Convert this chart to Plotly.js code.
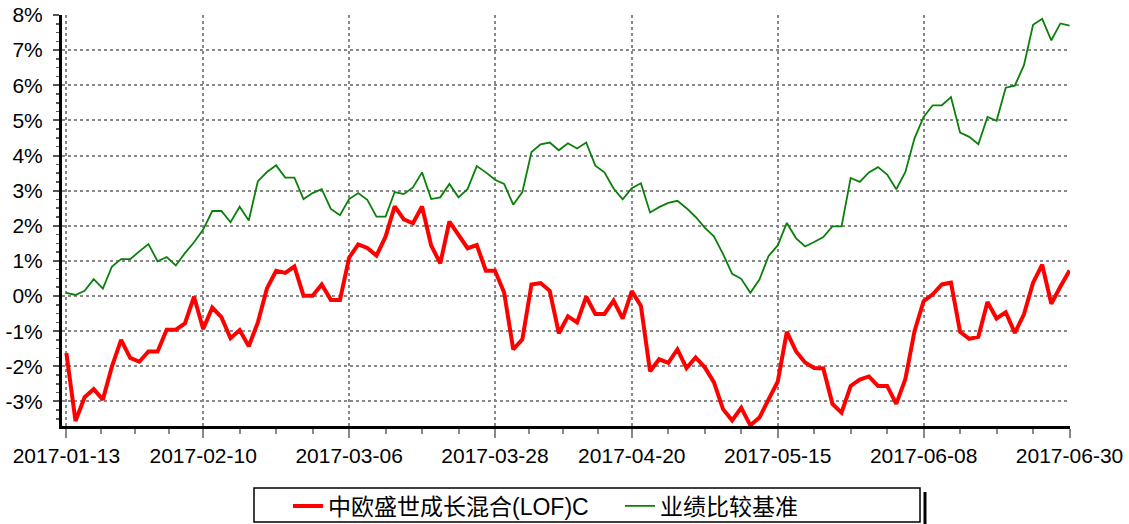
<!DOCTYPE html>
<html><head><meta charset="utf-8">
<script src="https://cdn.plot.ly/plotly-3.0.1.min.js"></script>
<style>html,body{margin:0;padding:0;background:#fff;} #chart{width:1129px;height:524px;}</style>
</head><body><div id="chart"></div>
<script>
const dates = [
'2017-01-13','2017-01-16','2017-01-17','2017-01-18','2017-01-19','2017-01-20','2017-01-23','2017-01-24','2017-01-25','2017-01-26',
'2017-02-03','2017-02-06','2017-02-07','2017-02-08','2017-02-09','2017-02-10','2017-02-13','2017-02-14','2017-02-15','2017-02-16',
'2017-02-17','2017-02-20','2017-02-21','2017-02-22','2017-02-23','2017-02-24','2017-02-27','2017-02-28','2017-03-01','2017-03-02',
'2017-03-03','2017-03-06','2017-03-07','2017-03-08','2017-03-09','2017-03-10','2017-03-13','2017-03-14','2017-03-15','2017-03-16',
'2017-03-17','2017-03-20','2017-03-21','2017-03-22','2017-03-23','2017-03-24','2017-03-27','2017-03-28','2017-03-29','2017-03-30',
'2017-03-31','2017-04-05','2017-04-06','2017-04-07','2017-04-10','2017-04-11','2017-04-12','2017-04-13','2017-04-14','2017-04-17',
'2017-04-18','2017-04-19','2017-04-20','2017-04-21','2017-04-24','2017-04-25','2017-04-26','2017-04-27','2017-04-28','2017-05-02',
'2017-05-03','2017-05-04','2017-05-05','2017-05-08','2017-05-09','2017-05-10','2017-05-11','2017-05-12','2017-05-15','2017-05-16',
'2017-05-17','2017-05-18','2017-05-19','2017-05-22','2017-05-23','2017-05-24','2017-05-25','2017-05-26','2017-05-31','2017-06-01',
'2017-06-02','2017-06-05','2017-06-06','2017-06-07','2017-06-08','2017-06-09','2017-06-12','2017-06-13','2017-06-14','2017-06-15',
'2017-06-16','2017-06-19','2017-06-20','2017-06-21','2017-06-22','2017-06-23','2017-06-26','2017-06-27','2017-06-28','2017-06-29',
'2017-06-30'];

const fundReturn = [
-1.62,-3.56,-2.88,-2.65,-2.95,-2.00,-1.25,-1.76,-1.87,-1.58,
-1.58,-0.96,-0.96,-0.78,-0.02,-0.94,-0.33,-0.60,-1.20,-0.97,
-1.43,-0.75,0.22,0.72,0.66,0.84,0.01,0.01,0.33,-0.11,
-0.11,1.09,1.47,1.37,1.15,1.69,2.55,2.18,2.07,2.55,
1.44,0.93,2.12,1.72,1.36,1.45,0.72,0.72,0.10,-1.52,
-1.23,0.33,0.37,0.15,-1.06,-0.58,-0.75,-0.02,-0.51,-0.51,
-0.13,-0.64,0.14,-0.28,-2.14,-1.80,-1.90,-1.52,-2.05,-1.75,
-2.03,-2.45,-3.22,-3.54,-3.18,-3.68,-3.46,-2.94,-2.44,-1.02,
-1.57,-1.89,-2.05,-2.06,-3.07,-3.32,-2.56,-2.38,-2.29,-2.56,
-2.56,-3.07,-2.36,-1.00,-0.15,0.05,0.33,0.38,-1.02,-1.22,
-1.16,-0.17,-0.64,-0.46,-1.05,-0.52,0.38,0.89,-0.22,0.27,
0.73];

const benchmarkReturn = [
0.09,0.03,0.15,0.48,0.21,0.84,1.05,1.05,1.27,1.48,
0.99,1.11,0.87,1.22,1.53,1.89,2.42,2.42,2.10,2.54,
2.15,3.27,3.53,3.72,3.37,3.37,2.76,2.93,3.04,2.48,
2.30,2.76,2.93,2.74,2.26,2.26,2.96,2.90,3.09,3.52,
2.76,2.81,3.19,2.81,3.05,3.70,3.52,3.31,3.19,2.60,
2.96,4.10,4.32,4.37,4.15,4.35,4.20,4.37,3.71,3.52,
3.06,2.75,3.07,3.21,2.38,2.53,2.65,2.71,2.50,2.25,
1.95,1.70,1.20,0.63,0.49,0.09,0.47,1.14,1.44,2.08,
1.65,1.41,1.54,1.68,1.98,1.98,3.36,3.25,3.52,3.67,
3.46,3.04,3.53,4.49,5.10,5.43,5.43,5.66,4.65,4.53,
4.32,5.10,4.99,5.93,5.99,6.57,7.72,7.89,7.28,7.76,
7.70];

const tickDates = ['2017-01-13','2017-02-10','2017-03-06','2017-03-28','2017-04-20','2017-05-15','2017-06-08','2017-06-30'];
const seriesNames = ['中欧盛世成长混合(LOF)C','业绩比较基准'];
const yTicks = [-3,-2,-1,0,1,2,3,4,5,6,7,8];

const xIdx = dates.map((d,i)=>i);
const tickIdx = tickDates.map(d=>dates.indexOf(d));
const minorIdx = [];
for (let k=0;k<tickIdx.length-1;k++){
  for (let q=1;q<4;q++) minorIdx.push(tickIdx[k]+(tickIdx[k+1]-tickIdx[k])*q/4);
}

const font = "Arial, 'Liberation Sans', 'Noto Sans CJK SC', sans-serif";

const traces = [
  {x:xIdx, y:fundReturn, customdata:dates, type:'scatter', mode:'lines', name:seriesNames[0],
   line:{color:'#ff0000', width:4}, legend:'legend'},
  {x:xIdx, y:benchmarkReturn, customdata:dates, type:'scatter', mode:'lines', name:seriesNames[1],
   line:{color:'#0a800a', width:1.8}, legend:'legend2'}
];

const W=1129, H=524, L=62, R=59, T=15, B=98;
const pw=W-L-R, ph=H-T-B;
const px2x = p => (p-L)/pw;
const px2y = p => (H-B-p)/ph;

const layout = {
  width:W, height:H,
  margin:{l:L, r:R, t:T, b:B, autoexpand:false},
  paper_bgcolor:'#ffffff', plot_bgcolor:'#ffffff',
  showlegend:true,
  xaxis:{
    type:'linear', range:[-0.48,110.05],
    tickmode:'array', tickvals:tickIdx, ticktext:tickDates,
    ticks:'outside', ticklen:9, tickwidth:2, tickcolor:'#888',
    showline:true, linecolor:'#000', linewidth:3,
    showgrid:true, gridcolor:'#888', gridwidth:2, griddash:'dot',
    zeroline:false,
    minor:{tickmode:'array', tickvals:minorIdx, ticks:'outside', ticklen:5, tickwidth:2, tickcolor:'#888', showgrid:false},
    tickfont:{family:font, size:21, color:'#000'},
    ticklabelstandoff:0
  },
  yaxis:{
    range:[-3.70,8.0],
    tickmode:'array', tickvals:yTicks, ticktext:yTicks.map(v=>v+'%'),
    ticks:'outside', ticklen:6, tickwidth:2, tickcolor:'#555',
    showline:true, linecolor:'#000', linewidth:3,
    showgrid:true, gridcolor:'#888', gridwidth:2, griddash:'dot',
    zeroline:false,
    minor:{tickmode:'linear', tick0:0, dtick:0.25, ticks:'outside', ticklen:3, tickwidth:1.5, tickcolor:'#555', showgrid:false},
    tickfont:{family:font, size:21, color:'#000'},
    ticklabelstandoff:6
  },
  legend:{orientation:'h', x:px2x(288), xanchor:'left', y:px2y(506), yanchor:'middle',
    bgcolor:'rgba(0,0,0,0)', borderwidth:0, font:{family:font, size:23, color:'#000'}},
  legend2:{orientation:'h', x:px2x(620), xanchor:'left', y:px2y(506), yanchor:'middle',
    bgcolor:'rgba(0,0,0,0)', borderwidth:0, font:{family:font, size:23, color:'#000'}},
  shapes:[
    {type:'rect', xref:'paper', yref:'paper', x0:px2x(254), x1:px2x(920), y0:px2y(522), y1:px2y(488),
     line:{color:'#000', width:1.5}, fillcolor:'rgba(0,0,0,0)'},
    {type:'line', xref:'paper', yref:'paper', x0:px2x(925), x1:px2x(925), y0:px2y(524), y1:px2y(492),
     line:{color:'#000', width:3}}
  ]
};

Plotly.newPlot('chart', traces, layout, {displayModeBar:false, staticPlot:true});
</script>
</body></html>
